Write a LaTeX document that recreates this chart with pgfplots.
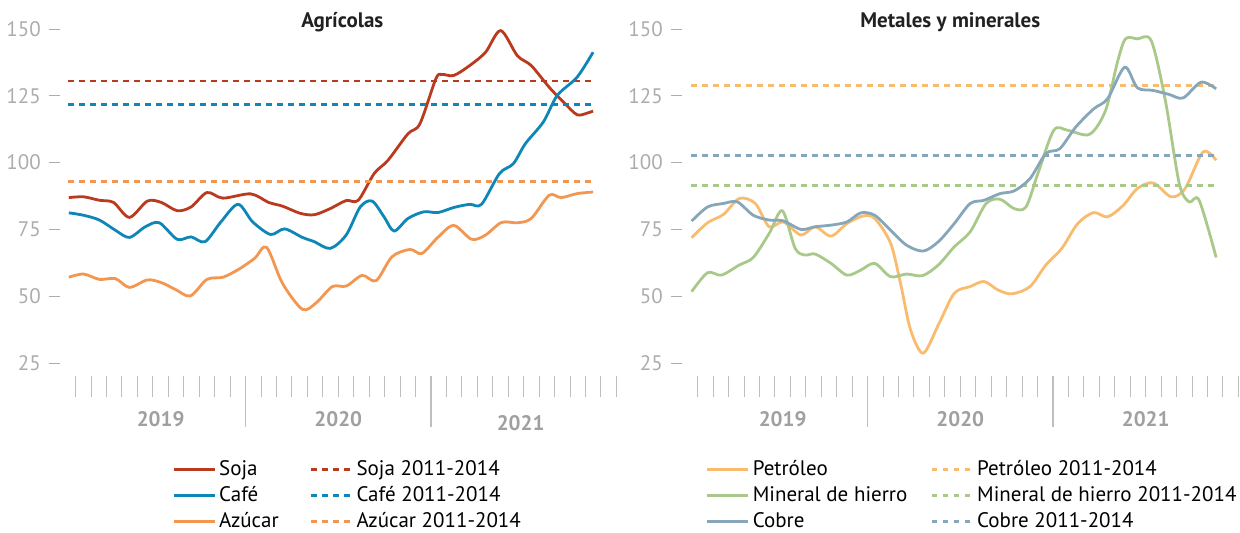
\documentclass[border=0pt]{standalone}
\usepackage{fontspec}
\setmainfont{PT Sans}
\usepackage{pgfplots}
\pgfplotsset{compat=1.18}

\definecolor{soja}{RGB}{186,58,30}
\definecolor{cafe}{RGB}{14,134,184}
\definecolor{azucar}{RGB}{243,150,80}
\definecolor{petroleo}{RGB}{249,188,110}
\definecolor{hierro}{RGB}{168,201,138}
\definecolor{cobre}{RGB}{134,166,186}
\definecolor{tickgray}{RGB}{190,190,190}
\definecolor{labgray}{RGB}{172,172,172}
\definecolor{yeargray}{RGB}{160,160,160}

\pgfplotsset{
  panel/.style={
    width=278.1pt, height=173.7pt, scale only axis,
    xmin=0, xmax=36, ymin=20, ymax=150,
    enlargelimits=false, clip=false,
    axis line style={draw=none},
    tick align=outside,
    xtick={1,...,36}, xticklabels={},
    xtick pos=bottom, ytick pos=left,
    major tick length=10.5pt,
    x tick style={tickgray, line width=0.5pt},
    y tick style={draw=none},
    ytick={25,50,...,150},
    /pgf/number format/assume math mode=true,
    yticklabel={\pgfmathprintnumber{\tick}\hspace{4pt}\rule[3.4pt]{5.5pt}{0.5pt}},
    yticklabel style={anchor=east, inner sep=0pt, xshift=10.5pt, font=\fontsize{10.5}{12}\selectfont, text=labgray},
    title style={at={(0.5,1)}, anchor=base, yshift=-5.5pt, font=\fontsize{10.5}{12}\selectfont\bfseries, text=black!87},
    legend columns=2,
    legend cell align=left,
    legend style={draw=none, fill=none, inner sep=0pt, anchor=north west,
      font=\fontsize{10.5}{12}\selectfont, row sep=2.7pt,
      nodes={inner xsep=1.5pt, inner ysep=0.6pt}},
    legend image code/.code={\draw[#1, line width=1.4pt] (0pt,0pt) -- (20.5pt,0pt);},
    every axis plot/.append style={line width=1.4pt},
  },
  ref/.style={line width=1.4pt, dash pattern=on 2.8pt off 2.7pt},
}

\begin{document}
\begin{tikzpicture}
\begin{axis}[panel, at={(0pt,0pt)}, anchor=south west,
  title={Agrícolas}, title style={xshift=2pt},
  legend style={at={(0.201,-0.238)}, /tikz/every even column/.append style={column sep=14pt}}]
\addplot[soja, smooth] coordinates {
 (0.56,86.9) (1.51,87.2) (2.54,85.9) (3.45,85.1) (4.48,79.5) (5.64,85.6) (6.54,85.1)
 (7.57,82.0) (8.47,83.4) (9.50,88.8) (10.53,86.7) (12.33,88.3) (13.49,85.1) (14.39,83.7)
 (15.55,81.0) (16.45,80.5) (17.48,82.8) (18.51,85.8) (19.29,85.9) (20.32,95.9) (21.22,100.9)
 (22.51,110.8) (23.28,114.5) (24.31,131.3) (24.70,133.0) (25.47,132.6) (26.50,136.3)
 (27.53,141.3) (28.51,149.4) (29.59,140.0) (30.49,136.3) (31.65,128.2) (32.68,122.0)
 (33.46,117.9) (34.10,118.5) (34.49,119.3)};
\addlegendentry{Soja}
\addplot[soja, ref] coordinates {(0.5,130.5) (34.6,130.5)};
\addlegendentry{Soja 2011-2014}
\addplot[cafe, smooth] coordinates {
 (0.56,81.2) (1.51,80.3) (2.54,78.5) (3.57,74.7) (4.48,72.0) (5.51,76.0) (6.41,77.5)
 (7.57,71.3) (8.47,72.2) (9.37,70.4) (10.40,77.8) (11.51,84.4) (12.46,77.8) (13.62,73.1)
 (14.52,75.2) (15.68,72.0) (16.45,70.4) (17.48,67.9) (18.51,72.9) (19.42,83.4) (20.19,85.6)
 (20.96,79.7) (21.61,74.4) (22.51,79.1) (23.54,81.6) (24.44,81.3) (25.47,83.2) (26.50,84.4)
 (27.27,84.4) (28.43,95.9) (29.33,99.6) (30.11,107.1) (31.27,115.2) (32.17,125.1)
 (33.46,132.0) (34.49,141.3)};
\addlegendentry{Café}
\addplot[cafe, ref] coordinates {(0.5,121.7) (34.6,121.7)};
\addlegendentry{Café 2011-2014}
\addplot[azucar, smooth] coordinates {
 (0.56,57.1) (1.51,58.3) (2.54,56.3) (3.57,56.6) (4.48,53.3) (5.64,56.1) (6.54,55.1)
 (7.44,52.6) (8.42,50.1) (9.50,56.3) (10.53,57.1) (11.56,60.1) (12.59,64.2) (13.36,68.3)
 (14.39,54.8) (15.68,45.1) (16.58,47.6) (17.61,53.6) (18.51,53.8) (19.55,57.8) (20.45,55.8)
 (21.48,64.8) (22.64,67.5) (23.41,66.0) (24.44,72.0) (25.47,76.5) (26.63,71.3) (27.53,72.9)
 (28.56,77.6) (29.59,77.5) (30.49,79.1) (31.65,87.8) (32.42,86.9) (33.46,88.4) (34.49,89.0)};
\addlegendentry{Azúcar}
\addplot[azucar, ref] coordinates {(0.5,93.0) (34.6,93.0)};
\addlegendentry{Azúcar 2011-2014}
\draw[tickgray, line width=0.6pt] (axis cs:12,20) -- ++(0pt,-25.3pt);
\draw[tickgray, line width=0.6pt] (axis cs:24,20) -- ++(0pt,-25.3pt);
\node[font=\fontsize{10.5}{12}\selectfont\bfseries, text=yeargray] at (axis cs:6.5,20) [yshift=-21.5pt] {2019};
\node[font=\fontsize{10.5}{12}\selectfont\bfseries, text=yeargray] at (axis cs:18,20) [yshift=-21.5pt] {2020};
\node[font=\fontsize{10.5}{12}\selectfont\bfseries, text=yeargray] at (axis cs:29.8,20) [yshift=-23.3pt] {2021};
\end{axis}

\begin{axis}[panel, at={(311pt,0pt)}, anchor=south west,
  title={Metales y minerales}, title style={xshift=-5pt},
  legend style={at={(0.042,-0.238)}, /tikz/every even column/.append style={column sep=10pt}}]
\addplot[petroleo, smooth] coordinates {
 (0.61,71.9) (1.64,77.5) (2.67,80.6) (3.70,86.6) (4.73,84.7) (5.63,76.0) (6.54,77.8)
 (7.69,72.9) (8.60,76.0) (9.63,72.5) (10.66,77.2) (11.69,80.0) (12.46,79.1) (13.49,69.8)
 (14.13,54.8) (14.78,37.4) (15.60,28.7) (16.58,39.3) (17.61,51.1) (18.64,53.6) (19.54,55.5)
 (20.45,52.3) (21.35,50.9) (22.51,53.6) (23.54,61.7) (24.57,67.9) (25.60,77.2) (26.63,81.3)
 (27.53,79.7) (28.56,84.1) (29.46,90.3) (30.49,92.4) (31.65,87.2) (32.55,90.3) (33.71,104.0)
 (34.56,100.9)};
\addlegendentry{Petróleo}
\addplot[petroleo, ref] coordinates {(0.6,128.8) (34.6,128.8)};
\addlegendentry{Petróleo 2011-2014}
\addplot[hierro, smooth] coordinates {
 (0.61,51.7) (1.64,58.8) (2.54,57.9) (3.70,61.7) (4.60,64.5) (5.63,73.5) (6.48,82.0)
 (7.31,67.9) (7.95,65.4) (8.60,65.8) (9.63,62.3) (10.66,57.9) (11.56,59.8) (12.46,62.3)
 (13.49,57.3) (14.52,58.3) (15.55,57.7) (16.58,61.7) (17.61,68.5) (18.64,74.1) (19.67,84.7)
 (20.57,86.3) (21.48,82.8) (22.25,83.4) (23.02,95.9) (24.05,112.1) (24.95,112.1) (26.37,110.6)
 (27.40,119.5) (28.17,137.6) (28.69,146.3) (29.46,146.3) (30.36,145.6) (31.27,123.3)
 (32.17,92.2) (32.81,85.3) (33.46,85.9) (34.56,64.5)};
\addlegendentry{Mineral de hierro}
\addplot[hierro, ref] coordinates {(0.6,91.5) (34.6,91.5)};
\addlegendentry{Mineral de hierro 2011-2014}
\addplot[cobre, smooth] coordinates {
 (0.61,78.1) (1.64,83.4) (2.67,84.7) (3.57,85.3) (4.60,80.3) (5.63,78.5) (6.54,78.2)
 (7.69,75.0) (8.60,76.0) (9.63,76.6) (10.66,77.8) (11.56,81.2) (12.46,80.3) (13.49,74.7)
 (14.52,69.1) (15.60,66.9) (16.58,70.4) (17.61,77.2) (18.64,84.7) (19.54,85.9) (20.57,88.4)
 (21.48,89.4) (22.51,94.0) (23.54,103.4) (24.44,105.2) (25.47,113.3) (26.63,120.1)
 (27.53,123.9) (28.64,135.7) (29.46,128.0) (30.49,127.0) (31.52,125.5) (32.42,124.2)
 (33.58,130.1) (34.56,127.6)};
\addlegendentry{Cobre}
\addplot[cobre, ref] coordinates {(0.6,102.6) (34.6,102.6)};
\addlegendentry{Cobre 2011-2014}
\draw[tickgray, line width=0.6pt] (axis cs:12,20) -- ++(0pt,-25.3pt);
\draw[tickgray, line width=0.6pt] (axis cs:24,20) -- ++(0pt,-25.3pt);
\node[font=\fontsize{10.5}{12}\selectfont\bfseries, text=yeargray] at (axis cs:6.5,20) [yshift=-21.5pt] {2019};
\node[font=\fontsize{10.5}{12}\selectfont\bfseries, text=yeargray] at (axis cs:18,20) [yshift=-21.5pt] {2020};
\node[font=\fontsize{10.5}{12}\selectfont\bfseries, text=yeargray] at (axis cs:30,20) [yshift=-21.5pt] {2021};
\end{axis}
\pgfresetboundingbox
\path[use as bounding box] (-30.1pt,188.2pt) rectangle (589.9pt,-78.3pt);
\end{tikzpicture}
\end{document}
